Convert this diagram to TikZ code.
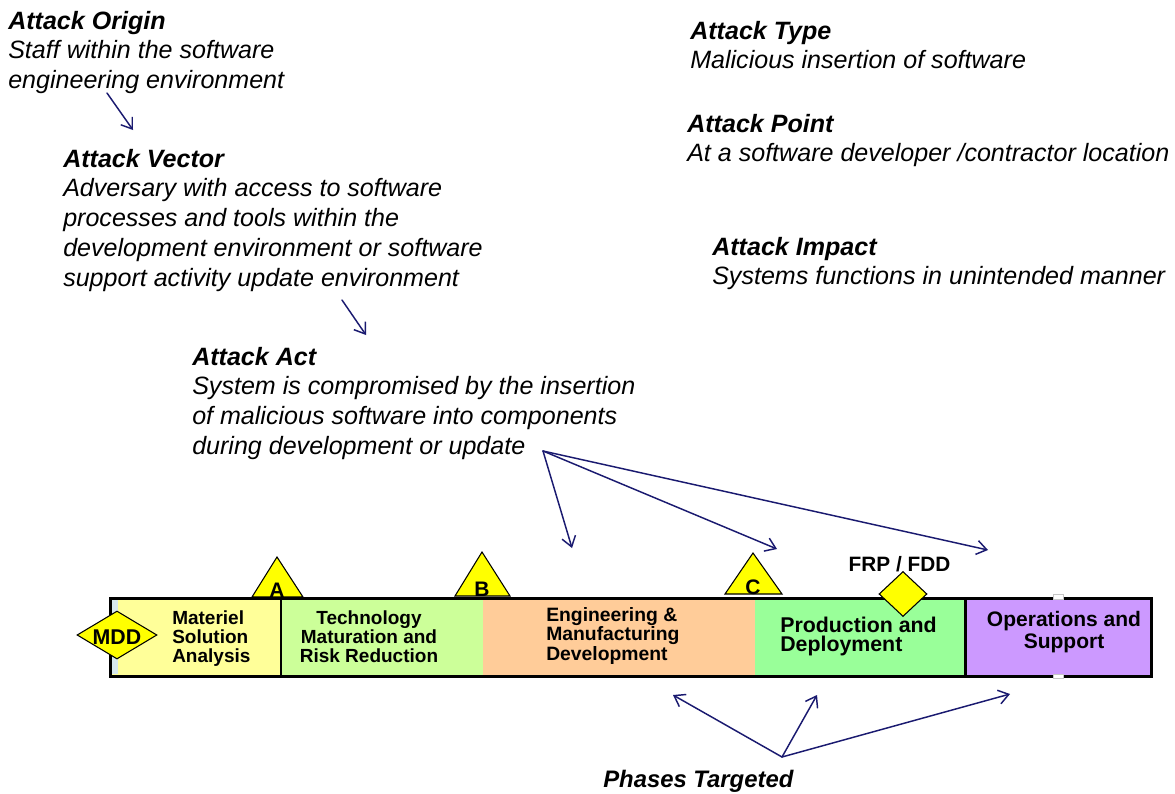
\documentclass[tikz,border=0pt]{standalone}
\usepackage{fontspec}
\setmainfont{Liberation Sans}
\usetikzlibrary{arrows.meta,shapes.geometric}

\definecolor{flowNavy}{RGB}{26,26,112}
\definecolor{msaC}{RGB}{255,255,153}
\definecolor{tmrrC}{RGB}{204,255,153}
\definecolor{emdC}{RGB}{255,204,153}
\definecolor{pdC}{RGB}{153,255,153}
\definecolor{osC}{RGB}{204,153,255}
\definecolor{msYellow}{RGB}{255,255,0}
\definecolor{edgeTint}{RGB}{214,232,238}

\tikzset{
  blocktext/.style={anchor=north west, inner sep=0pt, align=left,
    font={\fontsize{18.8pt}{22.3pt}\selectfont\itshape}},
  flow/.style={draw=flowNavy, line width=1.1pt, line cap=round,
    -{Straight Barb[length=7.5pt,width=10.5pt,line width=1.1pt]}},
  phasebox/.style={rectangle, inner sep=0pt, minimum height=58.5pt,
    anchor=north west, draw=none},
  phaselabel/.style={inner sep=0pt, align=left},
  milestone/.style={fill=msYellow, draw=black, line width=0.8pt},
  gateletter/.style={inner sep=0pt, anchor=base,
    font={\fontsize{15.75pt}{16pt}\selectfont\bfseries}},
}

\begin{document}
\begin{tikzpicture}[x=0.75pt,y=-0.75pt]
\useasboundingbox (0,0) rectangle (1175,793);
\fill[white] (0,0) rectangle (1175,793);

% ---- text blocks ----
\node[blocktext] (origin) at (8,10.7)
  {\textbf{Attack Origin}\\Staff within the software\\engineering environment};
\node[blocktext] (vector) at (63,148.7)
  {\textbf{Attack Vector}\\Adversary with access to software\\processes and tools within the\\development environment or software\\support activity update environment};
\node[blocktext] (act) at (192,346.7)
  {\textbf{Attack Act}\\System is compromised by the insertion\\of malicious software into components\\during development or update};
\node[blocktext] (type) at (690,20.7)
  {\textbf{Attack Type}\\Malicious insertion of software};
\node[blocktext] (point) at (687,113.7)
  {\textbf{Attack Point}\\At a software developer /contractor location};
\node[blocktext] (impact) at (712,236.7)
  {\textbf{Attack Impact}\\Systems functions in unintended manner};

% ---- milestone triangles (behind the bar) ----
\draw[milestone] (252,597) -- (277,557) -- (303,597) -- cycle;
\draw[milestone] (455,596) -- (482,552) -- (510,596) -- cycle;
\draw[milestone] (725,594) -- (753,553) -- (782,594) -- cycle;

% ---- acquisition phases ----
\node[phasebox, fill=msaC,  minimum width=127.125pt] (msa)  at (110.5,598) {};
\node[phasebox, fill=tmrrC, minimum width=152.25pt]  (tmrr) at (280,598) {};
\node[phasebox, fill=emdC,  minimum width=204pt]     (emd)  at (483,598) {};
\node[phasebox, fill=pdC,   minimum width=157.5pt]   (pd)   at (755,598) {};
\node[phasebox, fill=osC,   minimum width=139.5pt]   (os)   at (965,598) {};
\fill[edgeTint] (112,600) rectangle (118,674);

\draw[line width=1.5pt] (msa.north east) -- (msa.south east);
\draw[line width=2.25pt] (os.north west) -- (os.south west);
\draw[line width=2.25pt] (msa.north west) rectangle (os.south east);
\filldraw[fill=white, draw=gray!45, line width=0.4pt] (1053,594.5) rectangle (1063,599.5);
\filldraw[fill=white, draw=gray!45, line width=0.4pt] (1053,674.5) rectangle (1063,678.5);

% ---- phase names ----
\node[phaselabel, anchor=north west, font={\fontsize{14.25pt}{14.6pt}\selectfont\bfseries}]
  (msaT) at (172,610) {Materiel\\Solution\\Analysis};
\node[phaselabel, align=center, anchor=north, font={\fontsize{14.25pt}{14.6pt}\selectfont\bfseries}]
  (tmrrT) at (369,610) {Technology\\Maturation and\\Risk Reduction};
\node[phaselabel, anchor=north west, font={\fontsize{14.5pt}{13.5pt}\selectfont\bfseries}]
  (emdT) at (546,607) {Engineering \&\\Manufacturing\\Development};
\node[phaselabel, anchor=north west, font={\fontsize{16pt}{14.7pt}\selectfont\bfseries}]
  (pdT) at (780,616.4) {Production and\\Deployment};
\node[phaselabel, align=center, anchor=north, font={\fontsize{15.75pt}{16.5pt}\selectfont\bfseries}]
  (osT) at (1064,611) {Operations and\\Support};

% ---- milestone letters ----
\node[gateletter] (gateA) at (277,597) {A};
\node[gateletter] (gateB) at (482,596) {B};
\node[gateletter] (gateC) at (753,594) {C};

% ---- decision diamonds ----
\node[diamond, milestone, minimum width=60pt, minimum height=36pt, inner sep=0pt] (mdd) at (117,635) {};
\node[inner sep=0pt, font={\fontsize{16pt}{16pt}\selectfont\bfseries}] (mddT) at (117,637.3) {MDD};
\node[diamond, milestone, minimum width=36pt, minimum height=33.75pt, inner sep=0pt] (frp) at (903,594) {};
\node[inner sep=0pt, anchor=base, font={\fontsize{15.6pt}{15.6pt}\selectfont\bfseries}] (frpT) at (899.5,571) {FRP / FDD};

\node[inner sep=0pt, anchor=base west, font={\fontsize{17.9pt}{18pt}\selectfont\bfseries\itshape}]
  (phasesT) at (603,787) {Phases Targeted};

% ---- connector end points ----
\coordinate (originTail) at (107,93);
\coordinate (vectorHead) at (133,130);
\coordinate (vectorTail) at (342,300);
\coordinate (actHead) at (366,335);
\coordinate (actHub) at (543,451);
\coordinate (hitEMD) at (572,548);
\coordinate (hitC) at (777,549);
\coordinate (hitPD) at (988,550);
\coordinate (phaseHub) at (782,757);
\coordinate (tgtEMD) at (673,695);
\coordinate (tgtPD) at (817,695);
\coordinate (tgtOS) at (1010,694);

\draw[flow] (originTail) -- (vectorHead);
\draw[flow] (vectorTail) -- (actHead);
\draw[flow] (actHub) -- (hitEMD);
\draw[flow] (actHub) -- (hitC);
\draw[flow] (actHub) -- (hitPD);
\draw[flow] (phaseHub) -- (tgtEMD);
\draw[flow] (phaseHub) -- (tgtPD);
\draw[flow] (phaseHub) -- (tgtOS);
\end{tikzpicture}
\end{document}
